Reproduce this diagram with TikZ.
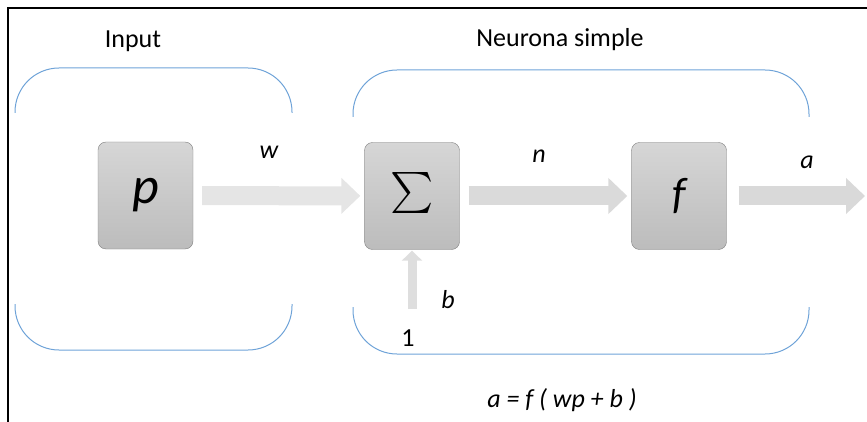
\documentclass[tikz,border=0pt]{standalone}
\usepackage{fontspec}
\setmainfont{Carlito}
\usepackage{tikz}
\usetikzlibrary{arrows.meta}
\definecolor{brkblue}{HTML}{6FA3D8}
\definecolor{boxtop}{HTML}{D6D6D6}
\definecolor{boxbot}{HTML}{BCBCBC}

\begin{document}
\begin{tikzpicture}[
        x=1pt, y=-1pt,
        every node/.append style={font=\fontsize{26}{26}\selectfont}
    ]
    \tikzstyle{box}=[draw=black!50,rounded corners=8pt,top color=boxtop,bottom color=boxbot,minimum width=95pt,minimum height=107pt,inner sep=0pt];
    \tikzstyle{fat}=[line width=19pt,-{Triangle[length=19pt,width=35pt]}];
    \tikzstyle{brk}=[brkblue,line width=1pt,rounded corners=44pt];
    \tikzstyle{lbl}=[anchor=base,inner sep=0pt];
    \useasboundingbox (0,0) rectangle (867,422);
    \draw[line width=1.5pt] (8,422) -- (8,8) -- (867,8);
    % input
    \node[lbl] (tin) at (133,48) {Input};
    \draw[brk] (15,113) -- (15,68) -- (292,68) -- (292,113);
    \draw[brk] (15,304) -- (15,350) -- (292,350) -- (292,304);
    \node[box,font=\fontsize{52}{52}\selectfont\itshape] (p) at (145.5,195.5) {p};
    % neuron
    \node[lbl] (tneu) at (560,47) {Neurona simple};
    \draw[brk] (353,117) -- (353,70) -- (809,70) -- (809,117);
    \draw[brk] (353,307) -- (353,354) -- (809,354) -- (809,307);
    \node[box] (sum) at (412,196) {\scalebox{4.1}{$\sum$}};
    \node[box,font=\fontsize{44}{44}\selectfont\itshape] (f) at (679,196) {f};
    \coordinate (bin) at (412,309);
    \coordinate (aout) at (865,196);
    % arrows
    \draw[fat,black!10] (p) -- (sum) [shorten <=9pt,shorten >=4pt];
    \draw[fat,black!10!white!95!black] (sum) -- (f) [shorten <=9pt,shorten >=4pt];
    \draw[fat,black!15] (f) -- (aout) [shorten <=12pt];
    \draw[black!13,line width=9pt,-{Triangle[length=10pt,width=20pt]}] (bin) -- (sum) [shorten >=1pt];
    % labels
    \node[lbl,font=\fontsize{26}{26}\selectfont\itshape] (w) at (269,159) {w};
    \node[lbl,font=\fontsize{26}{26}\selectfont\itshape] (n) at (539,162.5) {n};
    \node[lbl,font=\fontsize{26}{26}\selectfont\itshape] (a) at (807,169) {a};
    \node[lbl,font=\fontsize{26}{26}\selectfont\itshape] (b) at (448,308) {b};
    \node[lbl] (one) at (408,346) {1};
    \node[lbl,font=\fontsize{26}{26}\selectfont\itshape] (eq) at (562,407) {a = f ( wp + b )};
\end{tikzpicture}
\end{document}
